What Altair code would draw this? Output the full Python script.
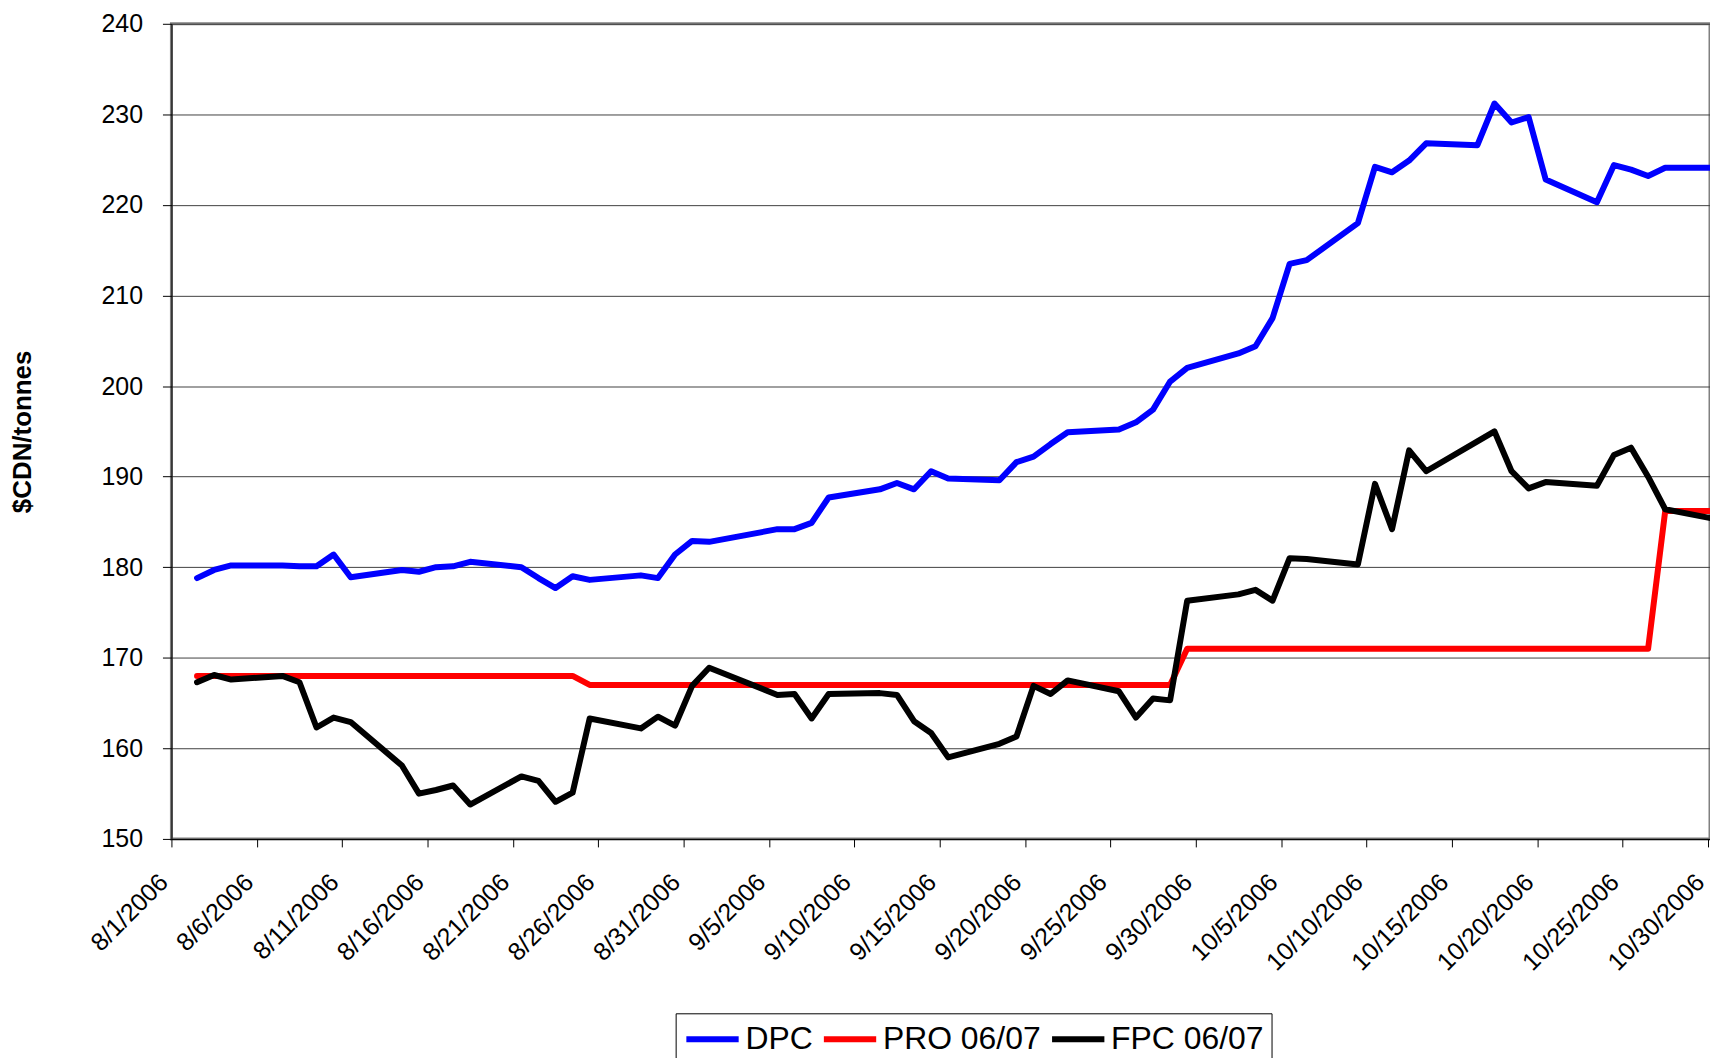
import altair as alt
import pandas as pd

DATES = [
    "2006-08-02", "2006-08-03", "2006-08-04", "2006-08-07", "2006-08-08", "2006-08-09",
    "2006-08-10", "2006-08-11", "2006-08-14", "2006-08-15", "2006-08-16", "2006-08-17",
    "2006-08-18", "2006-08-21", "2006-08-22", "2006-08-23", "2006-08-24", "2006-08-25",
    "2006-08-28", "2006-08-29", "2006-08-30", "2006-08-31", "2006-09-01", "2006-09-05",
    "2006-09-06", "2006-09-07", "2006-09-08", "2006-09-11", "2006-09-12", "2006-09-13",
    "2006-09-14", "2006-09-15", "2006-09-18", "2006-09-19", "2006-09-20", "2006-09-21",
    "2006-09-22", "2006-09-25", "2006-09-26", "2006-09-27", "2006-09-28", "2006-09-29",
    "2006-10-02", "2006-10-03", "2006-10-04", "2006-10-05", "2006-10-06", "2006-10-09",
    "2006-10-10", "2006-10-11", "2006-10-12", "2006-10-13", "2006-10-16", "2006-10-17",
    "2006-10-18", "2006-10-19", "2006-10-20", "2006-10-23", "2006-10-24", "2006-10-25",
    "2006-10-26", "2006-10-27", "2006-10-30",
]

DPC = [
    178.8, 179.7, 180.2, 180.2, 180.1, 180.1, 181.4, 178.9, 179.7, 179.5, 180.0, 180.1,
    180.6, 180.0, 178.8, 177.7, 179.0, 178.6, 179.1, 178.8, 181.4, 182.9, 182.8, 184.2,
    184.2, 184.9, 187.7, 188.6, 189.3, 188.6, 190.6, 189.8, 189.6, 191.6, 192.2, 193.6,
    194.9, 195.2, 196.0, 197.4, 200.5, 202.0, 203.6, 204.4, 207.5, 213.5, 213.9, 218.0,
    224.2, 223.6, 224.9, 226.8, 226.6, 231.2, 229.1, 229.7, 222.8, 220.3, 224.4, 223.9,
    223.2, 224.1, 224.1,
]

PRO = [
    168.0, 168.0, 168.0, 168.0, 168.0, 168.0, 168.0, 168.0, 168.0, 168.0, 168.0, 168.0,
    168.0, 168.0, 168.0, 168.0, 168.0, 167.0, 167.0, 167.0, 167.0, 167.0, 167.0, 167.0,
    167.0, 167.0, 167.0, 167.0, 167.0, 167.0, 167.0, 167.0, 167.0, 167.0, 167.0, 167.0,
    167.0, 167.0, 167.0, 167.0, 167.0, 171.0, 171.0, 171.0, 171.0, 171.0, 171.0, 171.0,
    171.0, 171.0, 171.0, 171.0, 171.0, 171.0, 171.0, 171.0, 171.0, 171.0, 171.0, 171.0,
    171.0, 186.2, 186.2,
]

FPC = [
    167.3, 168.1, 167.6, 168.0, 167.3, 162.3, 163.4, 162.9, 158.1, 155.0, 155.4, 155.9,
    153.8, 156.9, 156.4, 154.1, 155.1, 163.3, 162.2, 163.5, 162.5, 166.9, 168.9, 165.9,
    166.0, 163.3, 166.0, 166.1, 165.9, 163.0, 161.7, 159.0, 160.5, 161.3, 166.9, 166.0,
    167.5, 166.3, 163.4, 165.5, 165.3, 176.3, 177.0, 177.5, 176.3, 181.0, 180.9, 180.3,
    189.2, 184.2, 192.9, 190.6, 193.9, 195.0, 190.6, 188.7, 189.4, 189.0, 192.4, 193.2,
    190.0, 186.4, 185.3,
]

SERIES = ["DPC", "PRO 06/07", "FPC 06/07"]
COLORS = ["#0000FF", "#FF0000", "#000000"]

TICK_DATES = [
    (8, 1), (8, 6), (8, 11), (8, 16), (8, 21), (8, 26), (8, 31), (9, 5), (9, 10),
    (9, 15), (9, 20), (9, 25), (9, 30), (10, 5), (10, 10), (10, 15), (10, 20),
    (10, 25), (10, 30),
]
Y_TICKS = [150, 160, 170, 180, 190, 200, 210, 220, 230, 240]

rows = []
for name, vals in zip(SERIES, [DPC, PRO, FPC]):
    for d, v in zip(DATES, vals):
        rows.append({"date": d + "T12:00:00", "series": name, "value": v})
df = pd.DataFrame(rows)

FONT = "Liberation Sans"

x_axis = alt.Axis(
    values=[alt.DateTime(year=2006, month=m, date=d) for m, d in TICK_DATES],
    format="%-m/%-d/%Y",
    labelAngle=315,
    labelAlign="right",
    labelBaseline="middle",
    labelPadding=31,
    labelOffset=-8,
    labelFontSize=25,
    labelFont=FONT,
    labelColor="black",
    tickSize=8,
    tickColor="black",
    domainColor="black",
    grid=False,
    title=None,
    labelOverlap=False,
    labelBound=False,
    labelFlush=False,
)

y_axis = alt.Axis(
    values=Y_TICKS,
    tickSize=9,
    tickColor="black",
    labelPadding=20,
    labelFontSize=25,
    labelFont=FONT,
    labelColor="black",
    domainColor="black",
    gridColor="#404040",
    gridWidth=1,
    title="$CDN/tonnes",
    titleFont=FONT,
    titleFontSize=26,
    titleFontWeight="bold",
    titleColor="black",
    titleAngle=270,
    titleAlign="center",
    titleBaseline="middle",
    titleX=-149,
    titleY=409,
    labelOverlap=False,
    labelFlush=False,
)

legend = alt.Legend(
    orient="none",
    legendX=506,
    legendY=993,
    direction="horizontal",
    title=None,
    symbolType="M-1.75,0H1.75",
    symbolSize=900,
    symbolOffset=11,
    symbolStrokeWidth=6,
    labelFontSize=32,
    labelFont=FONT,
    labelColor="black",
    labelOffset=15,
    columnPadding=-2,
    padding=8,
    strokeColor="black",
    fillColor="white",
    labelLimit=400,
)

chart = (
    alt.Chart(df)
    .mark_line(strokeWidth=6, strokeJoin="round", strokeCap="round", clip=True)
    .encode(
        x=alt.X(
            "date:T",
            scale=alt.Scale(
                domain=[
                    alt.DateTime(year=2006, month=8, date=1),
                    alt.DateTime(year=2006, month=10, date=30, hours=3),
                ]
            ),
            axis=x_axis,
        ),
        y=alt.Y(
            "value:Q",
            scale=alt.Scale(domain=[150, 240], nice=False, zero=False),
            axis=y_axis,
        ),
        color=alt.Color(
            "series:N",
            scale=alt.Scale(domain=SERIES, range=COLORS),
            sort=SERIES,
            legend=legend,
        ),
    )
    .properties(
        width=1544,
        height=818,
        autosize=alt.AutoSizeParams(type="none"),
        padding={"left": 164, "top": 14, "right": 0, "bottom": 218},
        background="white",
    )
    .configure_view(stroke="#808080", strokeWidth=3)
)

chart.save("out.html", embed_options={"renderer": "svg", "actions": False})
